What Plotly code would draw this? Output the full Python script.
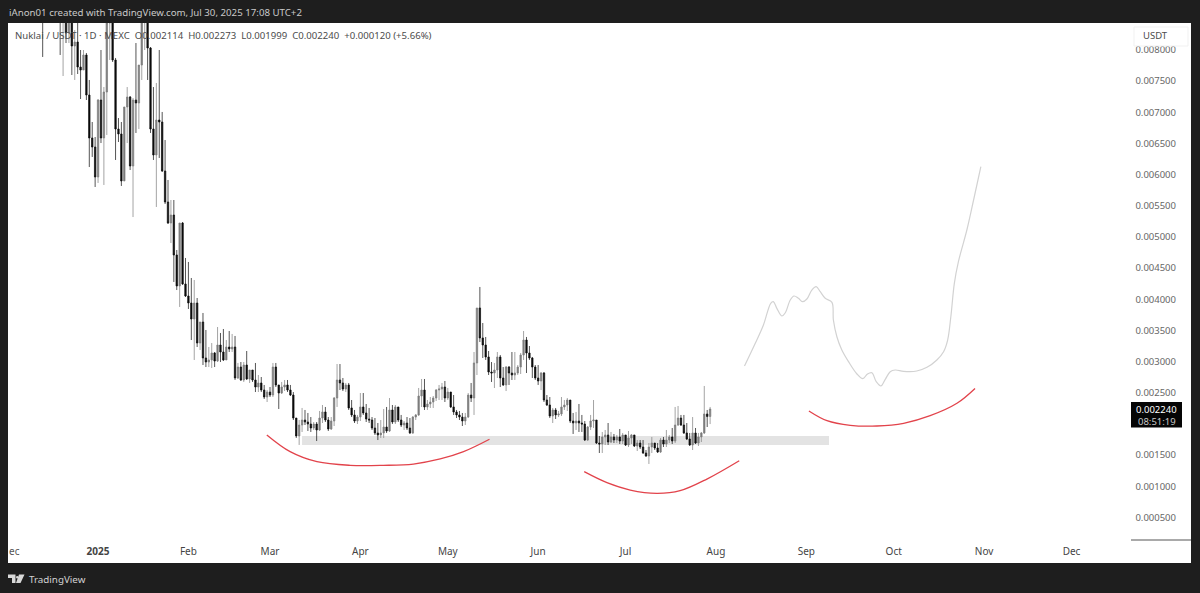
import datetime as dt

import numpy as np
import plotly.graph_objects as go

W, H = 1200, 593
LEFT, RIGHT, TOP, BOTTOM = 8, 1191, 23, 563

# all prices are in millionths of USDT, one candle per day from 2024-12-12
first_open = 9000
closes = [8769, 8721, 8881, 9042, 8929, 8961, 8801, 8753, 8769, 8272, 8480, 8063, 8127, 7726, 7678, 7919, 7277, 6588, 6443, 5962,
          7197, 6588, 7325, 8432, 8721, 7839, 6732, 6652, 5898, 7085, 7245, 6138, 7197, 7149, 7758, 8641, 8881, 8031, 6732, 6315,
          6876, 6844, 6058, 5561, 5224, 5352, 4711, 4214, 5224, 4246, 4053, 3941, 3684, 3941, 3299, 3636, 3059, 2994, 3027, 3139,
          3010, 3267, 3155, 3027, 3235, 3203, 3235, 2738, 2914, 2706, 2946, 2722, 2866, 2706, 2593, 2658, 2545, 2433, 2513, 2465,
          2914, 2626, 2497, 2593, 2626, 2545, 2465, 2096, 1808, 1984, 2064, 2032, 2000, 1936, 2000, 1904, 2096, 2193, 2064, 1920,
          2048, 2417, 2706, 2658, 2561, 2626, 2257, 2145, 2048, 2112, 2273, 2177, 2080, 2064, 1936, 1856, 1824, 1856, 1952, 1888,
          2225, 2032, 2273, 2064, 1984, 2016, 1936, 1856, 2112, 2145, 2449, 2545, 2273, 2321, 2353, 2417, 2545, 2561, 2593, 2417,
          2513, 2273, 2193, 2145, 2112, 2048, 2112, 2465, 2417, 2979, 3861, 3380, 3267, 3075, 2834, 2818, 2866, 3075, 2738, 2626,
          2914, 2818, 2786, 2818, 2914, 3107, 3347, 3139, 3059, 2914, 2738, 2690, 2818, 2385, 2305, 2128, 2225, 2145, 2161, 2273,
          2305, 2385, 2048, 2016, 2048, 2016, 2000, 1743, 1952, 2048, 2064, 1695, 1679, 1792, 1824, 1711, 1792, 1743, 1792, 1727,
          1824, 1663, 1776, 1824, 1647, 1695, 1631, 1535, 1487, 1631, 1695, 1615, 1551, 1743, 1679, 1743, 1792, 1727, 1984, 2096,
          1984, 1856, 1759, 1663, 1856, 1695, 1792, 1856, 2161, 2120, 2240]
highs = [9122, 9042, 9282, 9443, 9282, 9362, 9202, 9042, 8961, 8785, 8641, 8480, 8320, 8432, 7999, 7999, 7951, 7518, 6844, 6603,
         7213, 7999, 7405, 8881, 9042, 8881, 7871, 6908, 6844, 7085, 7405, 7261, 7229, 8111, 7758, 8881, 9122, 9122, 8047, 7405,
         7470, 7999, 7005, 6555, 5914, 5593, 5593, 4791, 5224, 5240, 4663, 4599, 4342, 4310, 4021, 3636, 3781, 3508, 3235, 3299,
         3155, 3556, 3460, 3524, 3347, 3492, 3444, 3412, 2979, 2994, 2994, 3171, 2866, 2866, 2979, 2786, 2754, 2626, 2545, 2593,
         2979, 2979, 2626, 2674, 2706, 2706, 2626, 2513, 2096, 2064, 2257, 2225, 2177, 2112, 2032, 2032, 2209, 2305, 2273, 2112,
         2112, 2433, 2962, 2962, 2738, 2658, 2658, 2385, 2225, 2145, 2497, 2497, 2321, 2257, 2112, 2096, 2016, 2064, 2241, 2273,
         2417, 2305, 2305, 2273, 2145, 2048, 2112, 2096, 2128, 2161, 2578, 2722, 2722, 2385, 2433, 2449, 2561, 2626, 2658, 2690,
         2578, 2513, 2465, 2225, 2209, 2177, 2177, 2497, 2658, 3155, 3861, 4198, 3620, 3396, 3171, 2994, 2979, 3155, 3107, 2914,
         2930, 2930, 3155, 3155, 2946, 3139, 3492, 3396, 3251, 3075, 2946, 2946, 2834, 2834, 2465, 2433, 2257, 2257, 2209, 2433,
         2385, 2417, 2385, 2177, 2193, 2321, 2145, 2048, 1968, 2145, 2385, 2064, 1808, 1872, 1904, 2016, 1872, 1840, 1824, 1920,
         1856, 1824, 1888, 1840, 1824, 1743, 1743, 1743, 1583, 1695, 1792, 1695, 1695, 1776, 1792, 1904, 1824, 1936, 2273, 2289,
         2145, 2145, 2016, 1856, 2112, 1936, 1856, 1872, 2610, 2225, 2273]
lows = [8432, 7887, 8560, 8608, 8641, 8673, 8576, 7919, 7582, 8111, 8111, 7598, 7518, 7614, 7213, 7710, 7197, 6122, 6283, 5802,
        5866, 6507, 5834, 6636, 7839, 7807, 6235, 6523, 5818, 5898, 6507, 6074, 5320, 6668, 6732, 7518, 7999, 7518, 6668, 6235,
        5481, 6267, 6042, 5529, 5208, 4903, 4278, 4149, 3877, 4230, 4037, 3845, 3347, 3027, 3235, 3187, 2946, 2914, 2914, 2898,
        2914, 2994, 2994, 3010, 3027, 3155, 3155, 2706, 2722, 2690, 2674, 2706, 2658, 2674, 2513, 2513, 2513, 2401, 2353, 2433,
        2433, 2593, 2241, 2481, 2529, 2513, 2449, 2064, 1776, 1664, 1872, 1984, 1888, 1872, 1904, 1727, 1888, 2016, 2032, 1888,
        1904, 1968, 2273, 2545, 2529, 2513, 2225, 2112, 2016, 2000, 2048, 2145, 2032, 2016, 1904, 1824, 1743, 1776, 1776, 1856,
        1872, 2000, 2000, 2032, 1952, 1904, 1904, 1840, 1840, 2064, 2128, 2273, 2225, 2225, 2257, 2257, 2369, 2385, 2385, 2353,
        2385, 2257, 2145, 2096, 2064, 1968, 1984, 2096, 2353, 2145, 2786, 3315, 3059, 3027, 2786, 2674, 2577, 2738, 2593, 2610,
        2529, 2626, 2706, 2706, 2786, 2802, 3027, 2818, 3027, 2738, 2706, 2626, 2545, 2353, 2289, 2096, 2016, 2080, 2112, 2128,
        2225, 2209, 2016, 1840, 1904, 1872, 1872, 1727, 1727, 1904, 1936, 1679, 1535, 1535, 1663, 1663, 1695, 1695, 1695, 1679,
        1679, 1647, 1631, 1679, 1631, 1567, 1599, 1519, 1471, 1359, 1535, 1583, 1535, 1535, 1631, 1631, 1695, 1679, 1695, 1968,
        1968, 1840, 1743, 1647, 1583, 1679, 1647, 1711, 1840, 1952, 1999]

# hand drawn parts, x in days counted from 2025-01-01
forecast_days = [221.8, 225.5, 228.3, 230.8, 231.7, 232.9, 234.6, 235.8, 237.5, 238.8, 240.3, 241.7, 243.2, 244.9, 246.4,
                 247.8, 249.5, 251.8, 252.3, 253.5, 255.2, 257.5, 260.4, 262.4, 264.0, 265.5, 267.0, 268.6, 270.1, 271.8,
                 273.5, 276.4, 280.9, 284.4, 287.8, 290.1, 291.5, 292.6, 293.8, 295.2, 298.1, 300.4, 302.9]
forecast_prices = [2930, 3294, 3588, 3936, 3962, 3855, 3732, 3785, 3989, 4053, 4016, 3962, 4005, 4149, 4202,
                   4122, 4016, 3952, 3668, 3400, 3187, 3000, 2802, 2727, 2802, 2823, 2679, 2610, 2717, 2839,
                   2866, 2845, 2850, 2909, 3027, 3160, 3347, 3721, 4257, 4604, 5112, 5593, 6127]
arc1_days = [57.9, 65.9, 75.1, 86.5, 97.9, 108.2, 117.4, 125.4, 134.3]
arc1_prices = [1824, 1556, 1395, 1337, 1337, 1358, 1439, 1556, 1755]
arc2_days = [166.8, 174.6, 182.6, 191.7, 199.7, 208.9, 220.0]
arc2_prices = [1235, 1059, 941, 888, 930, 1117, 1411]
arc3_days = [243.9, 250.1, 258.1, 267.2, 276.4, 285.5, 294.7, 300.9]
arc3_prices = [2209, 2053, 1979, 1968, 2011, 2133, 2332, 2570]
zone_days = [70, 250.8]
zone_prices = [1663, 1807]

# 0.002000 sits under the last price box in the reference, so it is not listed
price_ticks = [500, 1000, 1500, 2500, 3000, 3500, 4000, 4500, 5000, 5500, 6000, 6500, 7000, 7500, 8000]
month_ticks = ["2025-01-01", "2025-02-01", "2025-03-01", "2025-04-01", "2025-05-01", "2025-06-01",
               "2025-07-01", "2025-08-01", "2025-09-01", "2025-10-01", "2025-11-01", "2025-12-01"]
month_labels = ["<b>2025</b>", "Feb", "Mar", "Apr", "May", "Jun", "Jul", "Aug", "Sep", "Oct", "Nov", "Dec"]

UNIT = 1e-6
JAN1 = dt.datetime(2025, 1, 1)


def day(d):
    return JAN1 + dt.timedelta(days=d)


def usd(values):
    return np.array(values) * UNIT


# page pixel -> paper coordinates, for the frame around the chart
def px(x):
    return (x - LEFT) / (RIGHT - LEFT)


def py(y):
    return (BOTTOM - y) / (BOTTOM - TOP)


def label(x, y, text, color, size=10, anchor="left", family="Noto Sans"):
    fig.add_annotation(x=px(x), y=py(y), xref="paper", yref="paper", text=text, showarrow=False,
                       xanchor=anchor, yanchor="middle", font=dict(color=color, size=size, family=family),
                       borderpad=0)


dates = [day(-20 + i) for i in range(len(closes))]
opens = [first_open] + closes[:-1]

fig = go.Figure()
fig.add_trace(go.Candlestick(
    x=dates, open=usd(opens), high=usd(highs), low=usd(lows), close=usd(closes),
    increasing=dict(line=dict(color="#7d7d7d", width=0.7), fillcolor="#7d7d7d"),
    decreasing=dict(line=dict(color="#0c0c0c", width=0.7), fillcolor="#0c0c0c"),
    whiskerwidth=0, hoverinfo="skip"))

fig.add_trace(go.Scatter(x=[day(d) for d in forecast_days], y=usd(forecast_prices), mode="lines",
                         line=dict(color="#d2d2d2", width=1.2, shape="spline"), hoverinfo="skip"))
for arc_days, arc_prices in [(arc1_days, arc1_prices), (arc2_days, arc2_prices), (arc3_days, arc3_prices)]:
    fig.add_trace(go.Scatter(x=[day(d) for d in arc_days], y=usd(arc_prices), mode="lines",
                             line=dict(color="#e2434b", width=1.3, shape="spline"), hoverinfo="skip"))

fig.add_shape(type="rect", x0=day(zone_days[0]), x1=day(zone_days[1]), y0=zone_prices[0] * UNIT, y1=zone_prices[1] * UNIT,
              xref="x", yref="y", fillcolor="#e3e3e3", line_width=0, layer="below")

# price scale furniture
fig.add_shape(type="line", xref="paper", yref="paper", x0=px(1131), x1=1, y0=py(540), y1=py(540),
              line=dict(color="#555555", width=1))
fig.add_shape(type="rect", xref="paper", yref="paper", x0=px(1134), x1=px(1188), y0=py(46), y1=py(27),
              fillcolor="#ffffff", line=dict(color="#f1f1f1", width=1))
fig.add_shape(type="rect", xref="paper", yref="paper", x0=px(1131), x1=px(1182), y0=py(427.5), y1=py(402),
              fillcolor="#050505", line_width=0)

# TradingView logo
logo = "M {} {} L {} {} L {} {} L {} {} L {} {} L {} {} Z".format(
    px(8), py(574.5), px(15.5), py(574.5), px(15.5), py(583), px(12), py(583), px(12), py(578), px(8), py(578))
slash = "M {} {} L {} {} L {} {} L {} {} Z".format(
    px(19), py(574.5), px(24.5), py(574.5), px(20.5), py(583), px(16), py(583))
for path in (logo, slash):
    fig.add_shape(type="path", path=path, xref="paper", yref="paper", fillcolor="#d9d9d9", line_width=0)
fig.add_shape(type="circle", xref="paper", yref="paper", x0=px(16), x1=px(18.4), y0=py(578.4), y1=py(576),
              fillcolor="#d9d9d9", line_width=0)

label(8, 13, "iAnon01 created with TradingView.com, Jul 30, 2025 17:08 UTC+2", "#c9c9c9", 9.7)
label(14, 35, "Nuklai / USDT · 1D · MEXC&nbsp;&nbsp;O0.002114&nbsp;&nbsp;H0.002273&nbsp;&nbsp;L0.001999&nbsp;&nbsp;C0.002240&nbsp;&nbsp;+0.000120 (+5.66%)",
      "#4c4c4c", 9.6)
label(1142, 36, "USDT", "#4c4c4c", 9.5)
label(1156.5, 409, "0.002240", "#ffffff", 9.5, "center")
label(1156.5, 421, "08:51:19", "#c8c8c8", 9.5, "center")
label(8, 551, "ec", "#555555", 10)
label(28, 579, "TradingView", "#d2d2d2", 9.8)

fig.update_layout(
    width=W, height=H,
    margin=dict(l=LEFT, r=W - RIGHT, t=TOP, b=H - BOTTOM, pad=0),
    paper_bgcolor="#1e1e1e", plot_bgcolor="#ffffff",
    showlegend=False, hovermode=False,
    font=dict(family="Noto Sans", color="#555555", size=10),
    xaxis=dict(
        range=[day(-30.9), day(375)],
        tickmode="array", tickvals=month_ticks, ticktext=month_labels,
        ticklabelposition="inside", ticklabelstandoff=3, ticks="", ticklen=0,
        showgrid=False, zeroline=False, showline=False,
        rangeslider=dict(visible=False),
        tickfont=dict(size=10, color="#444444"),
    ),
    yaxis=dict(
        range=[(8801 - 16.04 * BOTTOM) * UNIT, (8801 - 16.04 * TOP) * UNIT],
        side="right",
        tickmode="array", tickvals=usd(price_ticks), ticktext=[f"{p * UNIT:.6f}" for p in price_ticks],
        ticklabelposition="inside", ticklabelstandoff=12, ticks="", ticklen=0,
        showgrid=False, zeroline=False, showline=False,
        tickfont=dict(size=9.5, color="#666666"),
    ),
)

# the page has to start at the window corner, the dark frame touches it
fig.write_html("out.html", config={"displayModeBar": False},
               post_script="document.body.style.margin='0';document.body.style.background='#1e1e1e';")
